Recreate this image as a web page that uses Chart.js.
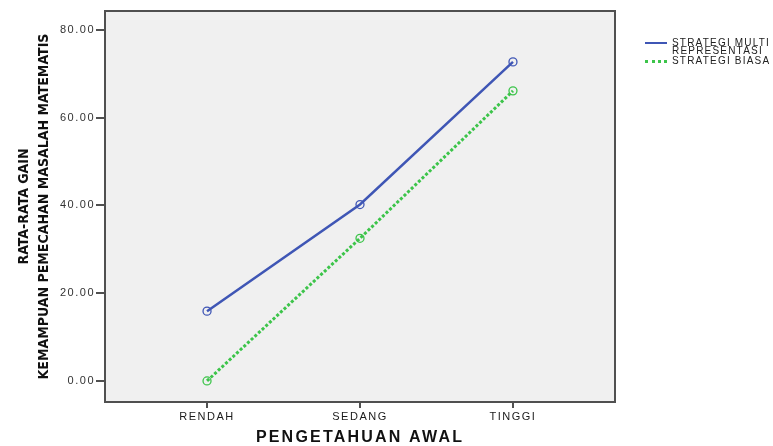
<!DOCTYPE html>
<html>
<head>
<meta charset="utf-8">
<script src="https://cdn.jsdelivr.net/npm/chart.js@4.4.1/dist/chart.umd.min.js"></script>
<style>
    body{ margin:0; background:#fff; }
    #wrap{ position:relative; width:773px; height:446px; }
    #legenda{ position:absolute; left:645px; top:39px; font-family:'Liberation Sans', Arial, sans-serif; font-size:10px; line-height:8px; letter-spacing:1.2px; color:#222; }
    .item{ position:relative; padding-left:27px; margin-bottom:2px; }
    .amostra{ position:absolute; left:0; width:22px; height:0; }
</style>
</head>
<body>
<div id="wrap">
    <canvas id="grafico" width="773" height="446"></canvas>
    <div id="legenda"></div>
</div>
<script>
const kategori = ['RENDAH', 'SEDANG', 'TINGGI'];
const strategiMulti = [15.9, 40.2, 72.7];
const strategiBiasa = [0.0, 32.5, 66.1];
const tickY = [0, 20, 40, 60, 80];
const namaSeri = [['STRATEGI MULTI', 'REPRESENTASI'], ['STRATEGI BIASA']];

const biru = '#3f56b5';
const hijau = '#3cc44a';

function titik(valores){
    return valores.map((v, i) => ({x: i, y: v}));
}

// espacamento entre letras por tipo de texto (o original esta esticado na horizontal)
function spasi(font){
    if(font.includes('Condensed')) return '0px';
    if(font.includes('bold')) return '2.2px';
    return '1.5px';
}

const areaPlot = {
    id: 'areaPlot',
    beforeInit(chart){
        const ctx = chart.ctx;
        const fill = ctx.fillText;
        ctx.fillText = function(){
            this.letterSpacing = spasi(this.font);
            return fill.apply(this, arguments);
        };
    },
    beforeDatasetsDraw(chart){
        const {ctx, chartArea: a} = chart;
        ctx.save();
        ctx.fillStyle = '#f0f0f0';
        ctx.fillRect(a.left, a.top, a.right - a.left, a.bottom - a.top);
        ctx.strokeStyle = '#505050';
        ctx.lineWidth = 2;
        ctx.strokeRect(a.left, a.top, a.right - a.left, a.bottom - a.top);
        ctx.restore();
    }
};

new Chart(document.getElementById('grafico'), {
    type: 'line',
    data: {
        datasets: [{
            label: namaSeri[0].join(' '),
            data: titik(strategiMulti),
            borderColor: biru,
            borderWidth: 2.5,
            pointRadius: 4,
            pointBorderWidth: 1.3,
            pointBackgroundColor: 'rgba(0,0,0,0)',
            pointBorderColor: biru
        },{
            label: namaSeri[1].join(' '),
            data: titik(strategiBiasa),
            borderColor: hijau,
            borderWidth: 3,
            borderDash: [3, 2],
            pointRadius: 4,
            pointBorderWidth: 1.3,
            pointBackgroundColor: 'rgba(0,0,0,0)',
            pointBorderColor: hijau
        }]
    },
    options: {
        responsive: false,
        animation: false,
        layout: { padding: { top: 11, right: 158, bottom: 0, left: 0 } },
        plugins: { legend: { display: false }, tooltip: { enabled: false } },
        scales: {
            x: {
                type: 'linear',
                min: -0.667,
                max: 2.667,
                afterBuildTicks: s => { s.ticks = kategori.map((k, i) => ({value: i})); },
                afterFit: s => { s.height = 44; },
                border: { display: false },
                grid: { drawOnChartArea: false, drawTicks: true, tickLength: 6, color: '#505050', lineWidth: 2 },
                ticks: {
                    callback: v => kategori[v],
                    font: { family: "'Liberation Sans', Arial", size: 11 },
                    color: '#1a1a1a',
                    padding: 2,
                    maxRotation: 0
                },
                title: {
                    display: true,
                    text: 'PENGETAHUAN AWAL',
                    font: { family: "'Liberation Sans', Arial", size: 16, weight: 'bold', lineHeight: 1.1 },
                    color: '#111',
                    padding: { top: 0, bottom: 0 }
                }
            },
            y: {
                min: -4.8,
                max: 84.3,
                afterBuildTicks: s => { s.ticks = tickY.map(v => ({value: v})); },
                afterFit: s => { s.width = 105; },
                border: { display: false },
                grid: { drawOnChartArea: false, drawTicks: true, tickLength: 9, color: '#505050', lineWidth: 2 },
                ticks: {
                    callback: v => v.toFixed(2),
                    font: { family: "'Liberation Sans', Arial", size: 11 },
                    color: '#333',
                    padding: 1
                },
                title: {
                    display: true,
                    text: ['RATA-RATA GAIN', 'KEMAMPUAN PEMECAHAN MASALAH MATEMATIS'],
                    font: { family: "'DejaVu Sans Condensed', sans-serif", size: 14, weight: 'bold', lineHeight: 1.43 },
                    color: '#111',
                    padding: { top: 14, bottom: 0 }
                }
            }
        }
    },
    plugins: [areaPlot]
});

// legenda em HTML
const legenda = document.getElementById('legenda');
const estilos = [
    'border-top:2.5px solid ' + biru,
    'border-top:3px dotted ' + hijau
];
namaSeri.forEach((linhas, i) => {
    const item = document.createElement('div');
    item.className = 'item';
    item.innerHTML = '<span class="amostra" style="top:3px;' + estilos[i] + '"></span>' + linhas.join('<br>');
    legenda.appendChild(item);
});
</script>
</body>
</html>
